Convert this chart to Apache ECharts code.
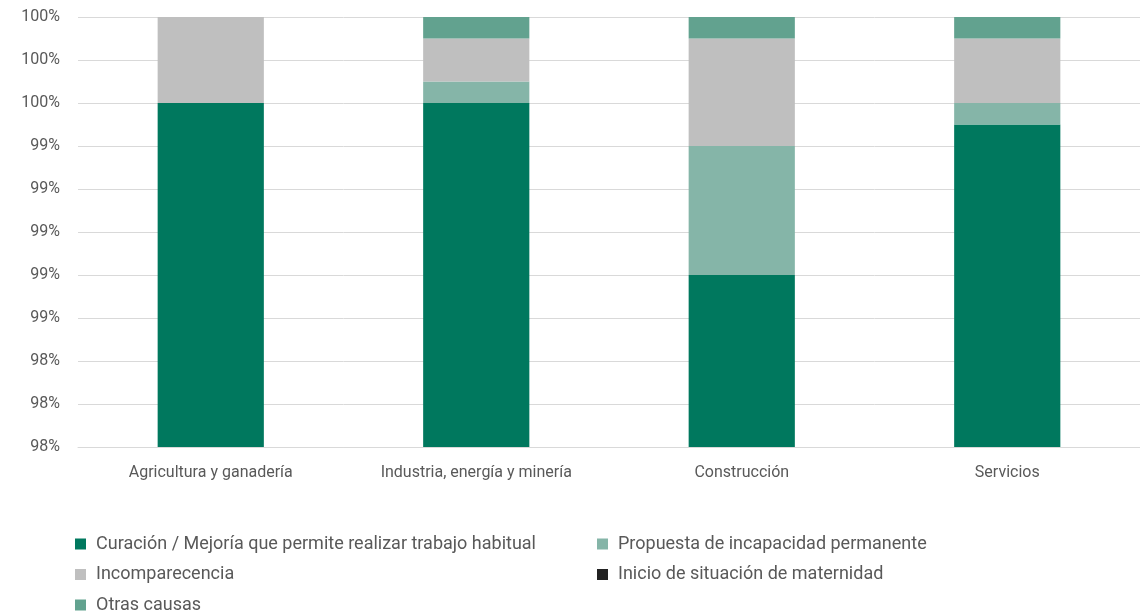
<!DOCTYPE html>
<html>
<head>
<meta charset="utf-8">
<script src="https://cdn.jsdelivr.net/npm/echarts@6/dist/echarts.min.js"></script>
<style>html,body{margin:0;padding:0;background:#fff}#c{width:1140px;height:613px}</style>
</head>
<body>
<div id="c"></div>
<script>
const categories = ['Agricultura y ganadería', 'Industria, energía y minería', 'Construcción', 'Servicios'];
const curacion = [99.6, 99.6, 98.8, 99.5];
const propuesta = [0, 0.1, 0.6, 0.1];
const incomparecencia = [0.4, 0.2, 0.5, 0.3];
const maternidad = [0, 0, 0, 0];
const otras = [0, 0.1, 0.1, 0.1];
const seriesNames = ['Curación / Mejoría que permite realizar trabajo habitual', 'Propuesta de incapacidad permanente', 'Incomparecencia', 'Inicio de situación de maternidad', 'Otras causas'];
const colors = ['#00785E', '#85B5A8', '#BFBFBF', '#222222', '#62A28F'];
const dataSets = [curacion, propuesta, incomparecencia, maternidad, otras];

const font = 'Roboto';
const legendBase = {
  orient: 'vertical', top: 535, height: 90, itemWidth: 11, itemHeight: 11, itemGap: 12.5,
  icon: 'rect', padding: 0,
  textStyle: { fontFamily: font, fontSize: 18, color: '#595959', lineHeight: 18, padding: [0, 0, 0, 5] }
};
const chart = echarts.init(document.getElementById('c'));
chart.setOption({
  animation: false,
  color: colors,
  grid: { left: 78, right: 0, top: 17, bottom: 166, containLabel: false },
  legend: [
    Object.assign({}, legendBase, { left: 75, data: [seriesNames[0], seriesNames[2], seriesNames[4]] }),
    Object.assign({}, legendBase, { left: 597, data: [seriesNames[1], seriesNames[3]] })
  ],
  xAxis: {
    type: 'category', data: categories,
    axisLine: { show: true, lineStyle: { color: '#d9d9d9' } },
    axisTick: { show: false },
    axisLabel: { fontFamily: font, fontSize: 16, color: '#595959', margin: 18 }
  },
  yAxis: {
    type: 'value', min: 98, max: 100, interval: 0.2,
    axisLine: { show: false }, axisTick: { show: false },
    splitLine: { lineStyle: { color: '#d9d9d9' } },
    axisLabel: { fontFamily: font, fontSize: 16, color: '#595959', margin: 18,
      formatter: v => Math.round(v) + '%' }
  },
  series: dataSets.map((d, i) => ({
    name: seriesNames[i], type: 'bar', stack: 'total', data: d,
    barWidth: '40%',
    itemStyle: { color: colors[i] }
  }))
});
</script>
</body>
</html>
